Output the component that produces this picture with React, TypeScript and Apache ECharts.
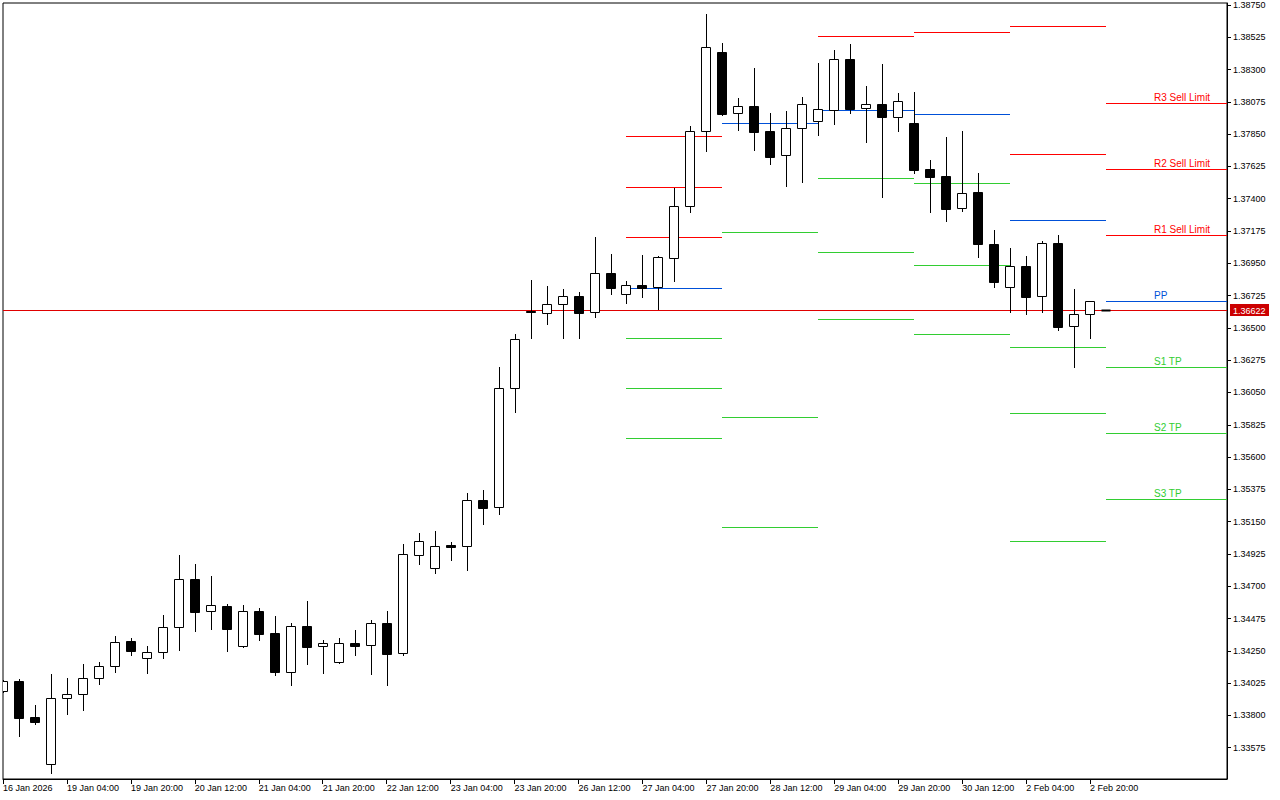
import React, { useEffect, useRef } from "react";
import * as echarts from "echarts";

// ---------- data ----------
const timeLabelBars = [0, 4, 8, 12, 16, 20, 24, 28, 32, 36, 40, 44, 48, 52, 56, 60, 64, 68];
const timeLabels = [
  "16 Jan 2026", "19 Jan 04:00", "19 Jan 20:00", "20 Jan 12:00", "21 Jan 04:00", "21 Jan 20:00",
  "22 Jan 12:00", "23 Jan 04:00", "23 Jan 20:00", "26 Jan 12:00", "27 Jan 04:00", "27 Jan 20:00",
  "28 Jan 12:00", "29 Jan 04:00", "29 Jan 20:00", "30 Jan 12:00", "2 Feb 04:00", "2 Feb 20:00",
];

const opens = [
  1.33968, 1.34037, 1.33787, 1.33459, 1.33919, 1.33947, 1.34058, 1.34142, 1.34318, 1.34198,
  1.34240, 1.34414, 1.34748, 1.34525, 1.34562, 1.34286, 1.34527, 1.34374, 1.34104, 1.34423,
  1.34281, 1.34174, 1.34304, 1.34288, 1.34442, 1.34233, 1.34915, 1.34825, 1.34989, 1.34978,
  1.35299, 1.35250, 1.36079, 1.36620, 1.36602, 1.36664, 1.36720, 1.36609, 1.36880, 1.36734,
  1.36797, 1.36783, 1.36985, 1.37347, 1.37870, 1.38422, 1.37995, 1.38044, 1.37870, 1.37703,
  1.37891, 1.37940, 1.38020, 1.38372, 1.38030, 1.38058, 1.37972, 1.37926, 1.37605, 1.37558,
  1.37333, 1.37445, 1.37085, 1.36783, 1.36929, 1.36720, 1.37092, 1.36511, 1.36595, 1.36622,
];
const closes = [
  1.34037, 1.33784, 1.33756, 1.33919, 1.33947, 1.34060, 1.34142, 1.34309, 1.34251, 1.34240,
  1.34414, 1.34748, 1.34522, 1.34567, 1.34404, 1.34527, 1.34369, 1.34104, 1.34421, 1.34279,
  1.34302, 1.34302, 1.34286, 1.34442, 1.34226, 1.34922, 1.35013, 1.34978, 1.34975, 1.35299,
  1.35247, 1.36079, 1.36423, 1.36609, 1.36664, 1.36720, 1.36606, 1.36880, 1.36780, 1.36797,
  1.36780, 1.36992, 1.37347, 1.37870, 1.38455, 1.37993, 1.38044, 1.37867, 1.37693, 1.37891,
  1.38058, 1.38023, 1.38372, 1.38027, 1.38058, 1.37972, 1.38079, 1.37602, 1.37554, 1.37331,
  1.37438, 1.37087, 1.36822, 1.36929, 1.36717, 1.37089, 1.36508, 1.36595, 1.36685, 1.36622,
];
const highs = [
  1.34047, 1.34051, 1.33872, 1.34088, 1.34060, 1.34158, 1.34172, 1.34351, 1.34337, 1.34281,
  1.34497, 1.34917, 1.34855, 1.34771, 1.34576, 1.34569, 1.34546, 1.34492, 1.34444, 1.34597,
  1.34325, 1.34339, 1.34395, 1.34465, 1.34527, 1.34994, 1.35071, 1.35085, 1.35008, 1.35349,
  1.35370, 1.36227, 1.36457, 1.36834, 1.36792, 1.36771, 1.36752, 1.37133, 1.37015, 1.36827,
  1.37006, 1.37001, 1.37477, 1.37907, 1.38687, 1.38485, 1.38102, 1.38311, 1.37997, 1.38011,
  1.38109, 1.38346, 1.38436, 1.38478, 1.38186, 1.38339, 1.38137, 1.38144, 1.37670, 1.37830,
  1.37872, 1.37579, 1.37182, 1.37057, 1.37001, 1.37108, 1.37147, 1.36773, 1.36688, 1.36622,
];
const lows = [
  1.33963, 1.33658, 1.33738, 1.33396, 1.33812, 1.33840, 1.34021, 1.34104, 1.34223, 1.34097,
  1.34198, 1.34258, 1.34390, 1.34404, 1.34251, 1.34276, 1.34327, 1.34083, 1.34014, 1.34160,
  1.34097, 1.34167, 1.34223, 1.34090, 1.34014, 1.34223, 1.34857, 1.34794, 1.34885, 1.34815,
  1.35136, 1.35205, 1.35914, 1.36427, 1.36529, 1.36428, 1.36428, 1.36578, 1.36738, 1.36676,
  1.36712, 1.36632, 1.36829, 1.37310, 1.37735, 1.37984, 1.37881, 1.37742, 1.37644, 1.37491,
  1.37519, 1.37846, 1.37923, 1.37999, 1.37797, 1.37414, 1.37874, 1.37581, 1.37310, 1.37247,
  1.37317, 1.36996, 1.36787, 1.36613, 1.36597, 1.36611, 1.36487, 1.36230, 1.36432, 1.36622,
];

const bidPrice = 1.36622;

const priceTicks = [
  1.33575, 1.338, 1.34025, 1.3425, 1.34475, 1.347, 1.34925, 1.3515, 1.35375, 1.356, 1.35825, 1.3605,
  1.36275, 1.365, 1.36725, 1.3695, 1.37175, 1.374, 1.37625, 1.3785, 1.38075, 1.383, 1.38525, 1.3875,
];

// daily pivot levels (segments from start bar to end bar)
const pivotStart = [39, 45, 51, 57, 63, 69];
const pivotEnd = [45, 51, 57, 63, 69, 80];
const R3 = [1.37835, null, null, null, null, 1.38065];
const R2 = [1.3748, null, null, null, 1.38604, 1.37605];
const R1 = [1.37131, null, 1.38534, 1.3856, 1.3771, 1.37145];
const PP = [1.36776, 1.37926, 1.38018, 1.37988, 1.3725, 1.36685];
const S1 = [1.36427, 1.37166, 1.37542, 1.37508, 1.36365, 1.36225];
const S2 = [1.36079, 1.35879, 1.37027, 1.36936, 1.35905, 1.35766];
const S3 = [1.35731, 1.35115, 1.3656, 1.36455, 1.35013, 1.35306];
const levelLabels = ["R3 Sell Limit", "R2 Sell Limit", "R1 Sell Limit", "PP", "S1 TP", "S2 TP", "S3 TP"];
const labelBar = 72;

// ---------- styling ----------
const RED = "#ff0000";
const BLUE = "#0050d8";
const GREEN = "#32cd32";
const FONT = "Liberation Sans, Arial, sans-serif";
const X_MIN = 0;
const X_MAX = 76.5625;

const levels = [R3, R2, R1, PP, S1, S2, S3];
const levelColor = (k: number) => (k < 3 ? RED : k === 3 ? BLUE : GREEN);

export default function App() {
  const ref = useRef<HTMLDivElement>(null);

  useEffect(() => {
    if (!ref.current) return;
    const chart = echarts.init(ref.current, null, { renderer: "svg" });

    const candleData = opens.map((o, i) => [i, o, closes[i], lows[i], highs[i]]);

    const pivotData: number[][] = [];
    levels.forEach((arr, k) => {
      arr.forEach((v, d) => {
        if (v !== null) pivotData.push([pivotStart[d], pivotEnd[d], v as number, k]);
      });
    });
    const lastDay = pivotStart.length - 1;
    const labelData = levels.map((arr, k) => [labelBar, arr[lastDay] as number, k]);

    const option: any = {
      animation: false,
      backgroundColor: "#ffffff",
      grid: {
        left: 2,
        top: 3,
        right: 53,
        bottom: 21,
        show: true,
        borderColor: "#000",
        borderWidth: 1,
        backgroundColor: "#ffffff",
      },
      xAxis: {
        type: "value",
        min: X_MIN,
        max: X_MAX,
        axisLine: { show: true, onZero: false, lineStyle: { color: "#000", width: 1 } },
        axisTick: {
          show: true,
          length: 5,
          lineStyle: { color: "#000" },
          customValues: timeLabelBars,
        },
        axisLabel: {
          show: true,
          customValues: timeLabelBars,
          formatter: (v: number) => {
            const idx = timeLabelBars.indexOf(Math.round(v));
            return idx >= 0 ? timeLabels[idx] : "";
          },
          align: "left",
          margin: 4,
          color: "#000",
          fontFamily: FONT,
          fontSize: 9,
        },
        splitLine: { show: false },
      },
      yAxis: {
        type: "value",
        position: "right",
        min: 1.333567,
        max: 1.387639,
        axisLine: { show: true, onZero: false, lineStyle: { color: "#000", width: 1 } },
        axisTick: {
          show: true,
          length: 4,
          lineStyle: { color: "#000" },
          customValues: priceTicks,
        },
        axisLabel: {
          show: true,
          customValues: priceTicks,
          formatter: (v: number) => v.toFixed(5),
          margin: 6,
          color: "#000",
          fontFamily: FONT,
          fontSize: 9,
        },
        splitLine: { show: false },
      },
      series: [
        {
          name: "bid",
          type: "custom",
          z: 1,
          clip: false,
          data: [[X_MIN, X_MAX, bidPrice]],
          encode: { x: [0, 1], y: 2 },
          renderItem: (params: any, api: any) => {
            const a = api.coord([api.value(0), api.value(2)]);
            const b = api.coord([api.value(1), api.value(2)]);
            const y = Math.round(a[1]) + 0.5;
            return {
              type: "group",
              children: [
                {
                  type: "line",
                  shape: { x1: Math.round(a[0]), y1: y, x2: Math.round(b[0]), y2: y },
                  style: { stroke: "#e00000", lineWidth: 1 },
                },
                {
                  type: "rect",
                  shape: { x: Math.round(b[0]) + 3, y: y - 6.5, width: 39, height: 12 },
                  style: { fill: "#cc0000" },
                },
                {
                  type: "text",
                  x: Math.round(b[0]) + 6,
                  y: y,
                  style: {
                    text: api.value(2).toFixed(5),
                    fill: "#ffffff",
                    font: `9px ${FONT}`,
                    textAlign: "left",
                    textVerticalAlign: "middle",
                  },
                },
              ],
            };
          },
        },
        {
          name: "pivots",
          type: "custom",
          z: 2,
          clip: true,
          data: pivotData,
          encode: { x: [0, 1], y: 2 },
          renderItem: (params: any, api: any) => {
            const x0 = api.value(0);
            const x1 = api.value(1);
            const p = api.value(2);
            const k = api.value(3);
            const a = api.coord([x0, p]);
            const b = api.coord([x1, p]);
            const y = Math.round(a[1]) + 0.5;
            return {
              type: "line",
              shape: { x1: Math.round(a[0]), y1: y, x2: Math.round(b[0]), y2: y },
              style: { stroke: levelColor(k), lineWidth: 1 },
            };
          },
        },
        {
          name: "candles",
          type: "custom",
          z: 3,
          clip: true,
          data: candleData,
          encode: { x: 0, y: [1, 2, 3, 4] },
          renderItem: (params: any, api: any) => {
            const i = api.value(0);
            const o = api.value(1);
            const c = api.value(2);
            const l = api.value(3);
            const h = api.value(4);
            const pO = api.coord([i, o]);
            const pC = api.coord([i, c]);
            const pL = api.coord([i, l]);
            const pH = api.coord([i, h]);
            const cx = Math.round(pO[0]);
            const top = Math.round(Math.min(pO[1], pC[1]));
            const bot = Math.round(Math.max(pO[1], pC[1]));
            const bull = c > o;
            return {
              type: "group",
              children: [
                {
                  type: "line",
                  shape: { x1: cx + 0.5, y1: Math.round(pH[1]), x2: cx + 0.5, y2: Math.round(pL[1]) + 1 },
                  style: { stroke: "#000", lineWidth: 1 },
                },
                {
                  type: "rect",
                  shape: { x: cx - 4.5, y: top + 0.5, width: 9, height: Math.max(bot - top, 0) },
                  style: { fill: bull ? "#ffffff" : "#000000", stroke: "#000", lineWidth: bot - top < 1 ? 2 : 1 },
                },
              ],
            };
          },
        },
        {
          name: "pivotLabels",
          type: "custom",
          z: 4,
          clip: false,
          data: labelData,
          encode: { x: 0, y: 1 },
          renderItem: (params: any, api: any) => {
            const x = api.value(0);
            const p = api.value(1);
            const k = api.value(2);
            const pt = api.coord([x, p]);
            return {
              type: "text",
              x: Math.round(pt[0]),
              y: Math.round(pt[1]) - 1,
              style: {
                text: levelLabels[k],
                fill: levelColor(k),
                font: `10px ${FONT}`,
                textAlign: "left",
                textVerticalAlign: "bottom",
              },
            };
          },
        },
      ],
    };

    chart.setOption(option);
    return () => chart.dispose();
  }, []);

  return (
    <div
      ref={ref}
      style={{ position: "fixed", left: 0, top: 0, width: 1280, height: 800, background: "#fff" }}
    />
  );
}
